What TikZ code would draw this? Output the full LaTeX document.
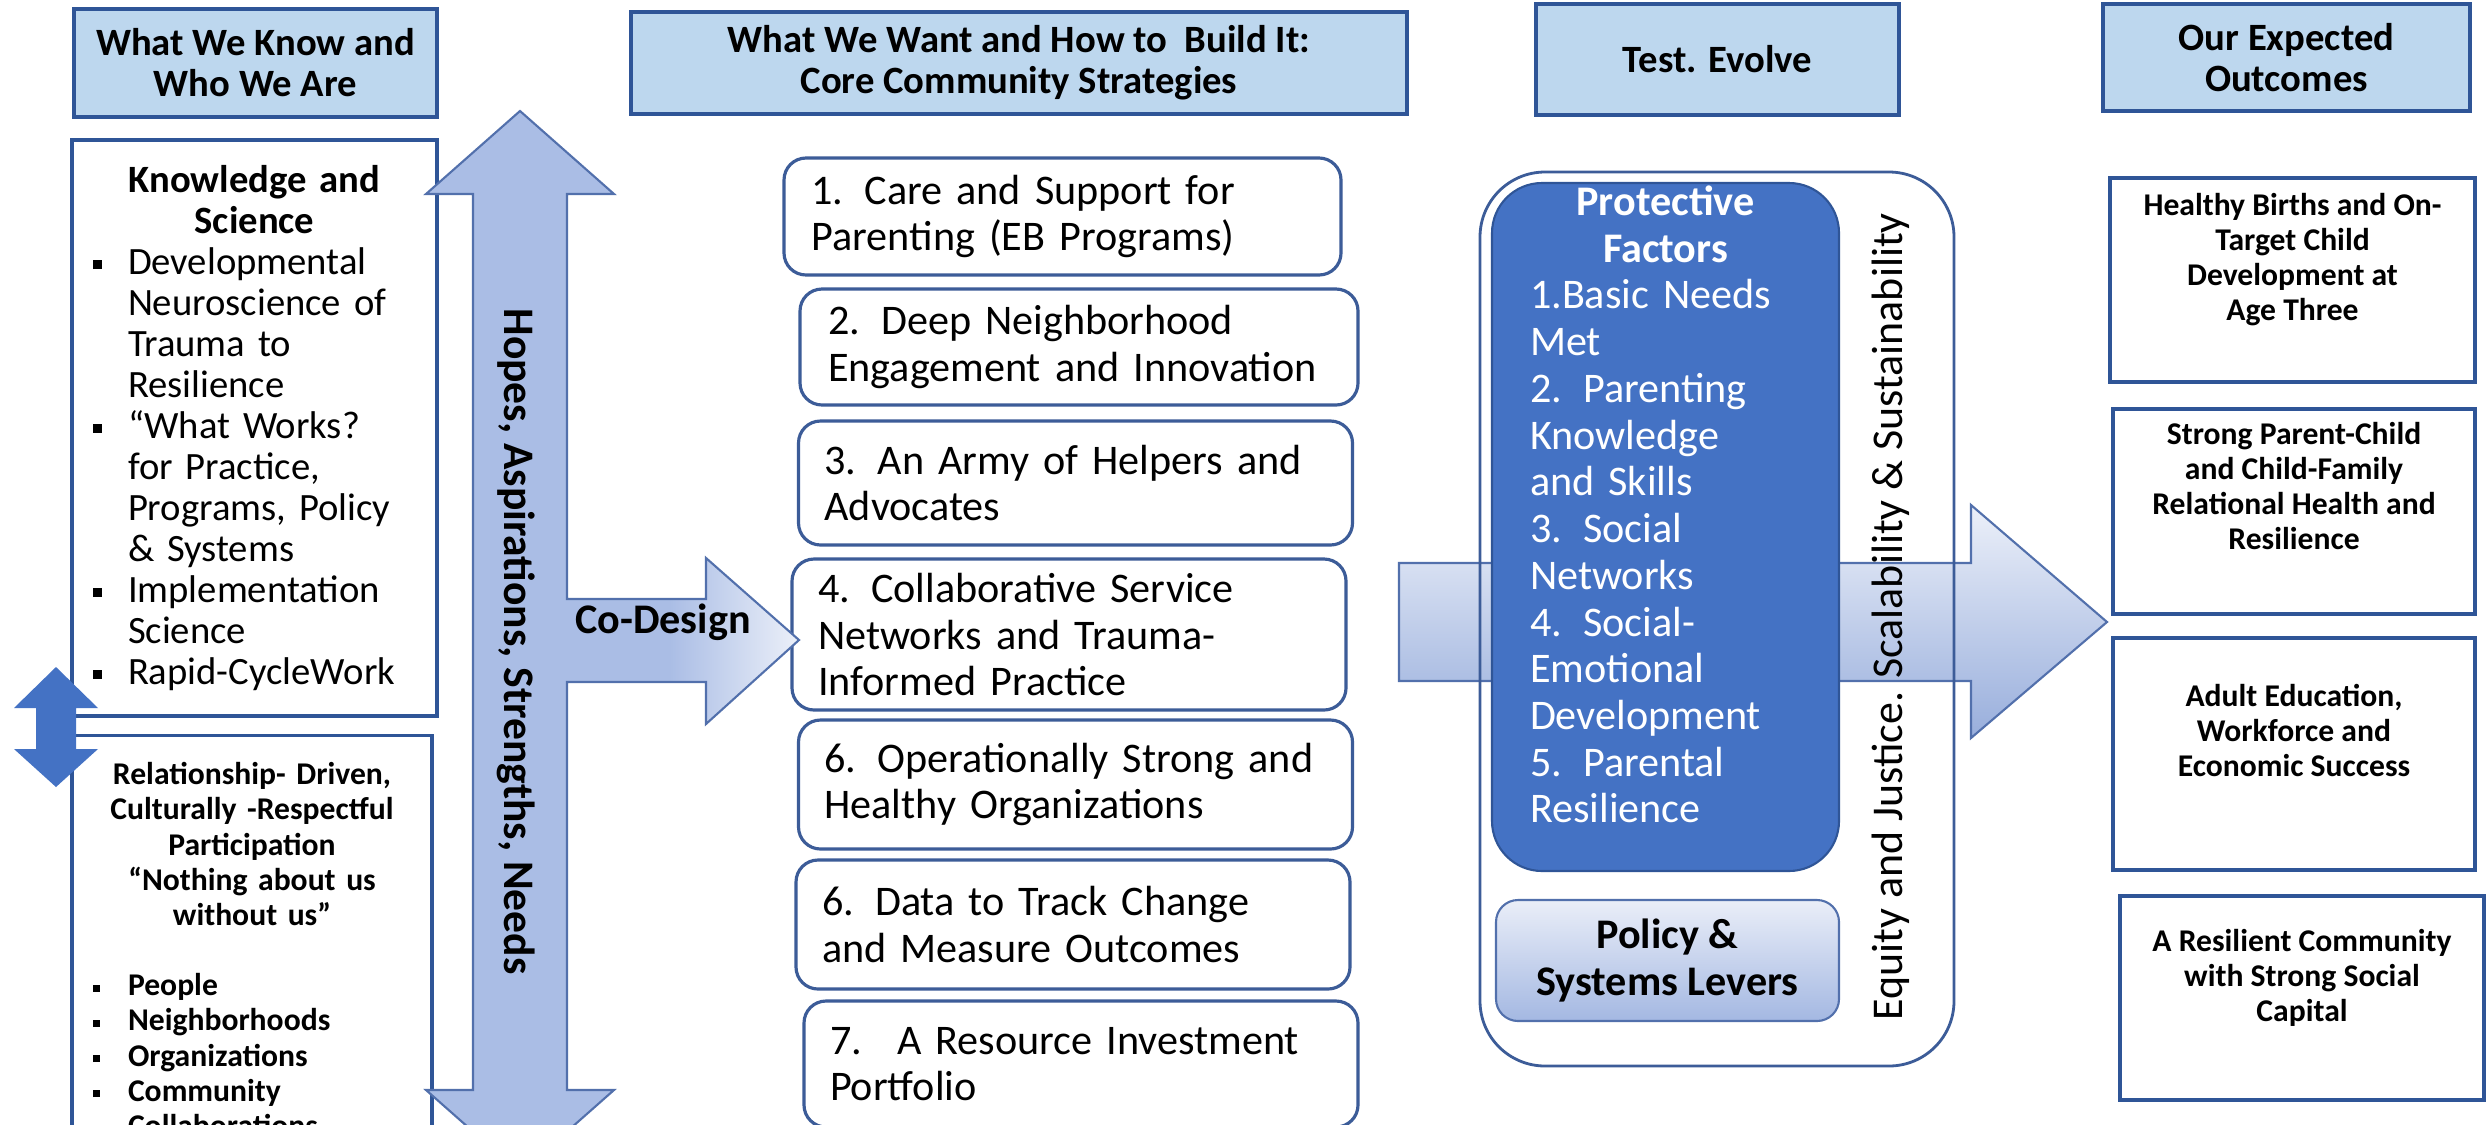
\documentclass[tikz,border=0pt]{standalone}
\usepackage{fontspec}
\setmainfont{Carlito}
\usepackage{tikz}
\usetikzlibrary{positioning}

\definecolor{headfill}{RGB}{189,215,238}
\definecolor{edgeblue}{RGB}{47,85,151}
\definecolor{boxedge}{RGB}{60,92,152}
\definecolor{arrowblue}{RGB}{170,189,229}
\definecolor{arrowedge}{RGB}{82,112,172}
\definecolor{arrowpale}{RGB}{236,240,249}
\definecolor{arrowdeep}{RGB}{152,174,220}
\definecolor{factorblue}{RGB}{68,114,196}
\definecolor{leverpale}{RGB}{234,238,248}
\definecolor{leverdark}{RGB}{164,184,226}

\pgfdeclarehorizontalshading{codesignfade}{100bp}{color(0bp)=(arrowblue); color(25bp)=(arrowblue); color(47bp)=(arrowblue); color(75bp)=(arrowpale); color(100bp)=(arrowpale)}

\newcommand{\ctrline}[1]{\makebox[\linewidth]{#1}}
\newcommand{\kbul}{\makebox[3.5mm][l]{\raisebox{0.55mm}{\rule{0.9mm}{0.9mm}}}}
\newcommand{\kind}{\hspace*{3.5mm}}
\newcommand{\rbul}{\makebox[3.5mm][l]{\raisebox{0.4mm}{\rule{0.7mm}{0.7mm}}}}
\newcommand{\hopesoutline}{(520,111) -- (614,194) -- (567,194) -- (567,599) -- (706,599) -- (706,558) -- (799,640) -- (706,724) -- (706,682) -- (567,682) -- (567,1090) -- (614,1090) -- (520,1173) -- (426,1090) -- (473,1090) -- (473,194) -- (426,194) -- cycle}

\begin{document}
\begin{tikzpicture}[x=0.1mm, y=-0.1mm,
    headbox/.style={draw=edgeblue, line width=0.9pt, fill=headfill, align=center, inner sep=0pt, font=\fontsize{11}{11.7}\selectfont\bfseries},
    listbox/.style={draw=edgeblue, line width=0.9pt, fill=white, align=left, inner xsep=2.1mm},
    stratbox/.style={draw=boxedge, line width=0.9pt, fill=white, rounded corners=2.2mm, align=left, text width=50.2mm, inner xsep=2.6mm, font=\fontsize{12}{13.3}\selectfont},
    outbox/.style={draw=edgeblue, line width=0.9pt, fill=white, inner sep=0pt},
    outtext/.style={align=center, inner sep=0pt, font=\fontsize{9}{10}\selectfont\bfseries},
    arrowline/.style={draw=arrowedge, line width=0.6pt}]
    \useasboundingbox (0,0) rectangle (2486,1124);
    \clip (0,0) rectangle (2486,1124);
    \fill [white] (0,0) rectangle (2486,1124);

    % Headers {knowhead, wanthead, testhead, outhead}
    \node [headbox, minimum width=36.3mm, minimum height=10.8mm]    (knowhead)  at (255.5,63)    {What We Know and\\Who We Are};
    \node [headbox, minimum width=77.6mm, minimum height=10.2mm]    (wanthead)  at (1019,63)     {What We Want and How to~ Build It:\\Core Community Strategies};
    \node [headbox, minimum width=36.3mm, minimum height=11.1mm]    (testhead)  at (1717.5,59.5) {Test. Evolve};
    \node [headbox, minimum width=36.7mm, minimum height=10.7mm]    (outhead)   at (2286.5,57.5) {Our Expected\\Outcomes};

    % Left column
    \node [listbox, minimum width=36.5mm, minimum height=57.6mm, text width=32.3mm, font=\fontsize{11}{11.65}\selectfont] (knowbox) at (254.5,428) {%
        \ctrline{\bfseries Knowledge and}\\
        \ctrline{\bfseries Science}\\
        \kbul Developmental\\
        \kind Neuroscience of\\
        \kind Trauma to\\
        \kind Resilience\\
        \kbul “What Works?\\
        \kind for Practice,\\
        \kind Programs, Policy\\
        \kind \& Systems\\
        \kbul Implementation\\
        \kind Science\\
        \kbul Rapid-CycleWork};
    \node [listbox, anchor=north, minimum width=36mm, text width=31.8mm, inner ysep=2.7mm, font=\fontsize{9}{10}\selectfont\bfseries] (relbox) at (252,734) {%
        \ctrline{Relationship- Driven,}\\
        \ctrline{Culturally -Respectful}\\
        \ctrline{Participation}\\
        \ctrline{“Nothing about us}\\
        \ctrline{without us”}\\[10pt]
        \rbul People\\
        \rbul Neighborhoods\\
        \rbul Organizations\\
        \rbul Community\\
        \rbul Collaborations};
    \fill [factorblue] (56,667) -- (98,708) -- (76,708) -- (76,749) -- (98,749) -- (56,787) -- (14,749) -- (36,749) -- (36,708) -- (14,708) -- cycle;

    % Strategies {care, deep, army, collab, opstrong, data, invest}
    \node [stratbox, minimum width=55.7mm, minimum height=11.7mm]   (care)      at (1062.5,216.5) {1. Care and Support for\\Parenting (EB Programs)};
    \node [stratbox, minimum width=55.8mm, minimum height=11.6mm]   (deep)      at (1079,347)     {2. Deep Neighborhood\\Engagement and Innovation};
    \node [stratbox, minimum width=55.1mm, minimum height=12.4mm]   (army)      at (1075.5,483)   {3. An Army of Helpers and\\Advocates};
    \node [stratbox, minimum width=55.4mm, minimum height=15.1mm]   (collab)    at (1069,634.5)   {4. Collaborative Service\\Networks and Trauma-\\Informed Practice};
    \node [stratbox, minimum width=55.1mm, minimum height=12.9mm]   (opstrong)  at (1075.5,784.5) {6. Operationally Strong and\\Healthy Organizations};
    \node [stratbox, minimum width=54.6mm, minimum height=12.9mm]   (data)      at (1073,924.5)   {6. Data to Track Change\\and Measure Outcomes};
    \node [stratbox, minimum width=54.8mm, minimum height=12.6mm]   (invest)    at (1081,1064)    {7.~ A Resource Investment\\Portfolio};

    % Hopes arrow with Co-Design branch
    \fill [arrowblue] \hopesoutline;
    \shade [shading=codesignfade] (567,599) -- (706,599) -- (706,558) -- (799,640) -- (706,724) -- (706,682) -- (567,682) -- cycle;
    \draw [arrowline] \hopesoutline;
    \node [rotate=-90, font=\fontsize{12.4}{13}\selectfont\bfseries] (hopes)    at (516,641.5) {Hopes, Aspirations, Strengths, Needs};
    \node [font=\fontsize{12}{13}\selectfont\bfseries]               (codesign) at (663,622)   {Co-Design};

    % Test. Evolve
    \draw [arrowline, top color=arrowpale, bottom color=arrowdeep] (1399,563) -- (1971,563) -- (1971,505) -- (2107,622) -- (1971,738) -- (1971,681) -- (1399,681) -- cycle;
    \node [draw=boxedge, line width=0.8pt, rounded corners=6.5mm, minimum width=47.4mm, minimum height=89.4mm] (testframe) at (1717,619) {};
    \node [fill=factorblue, draw=edgeblue, line width=0.6pt, rounded corners=5mm, minimum width=34.7mm, minimum height=68.8mm] (factors) at (1665.5,527) {};
    \node [below=0.3mm of factors.north, text=white, align=left, text width=27.1mm, inner sep=0pt, font=\fontsize{12}{13.3}\selectfont] (factorlist) {%
        \ctrline{\bfseries Protective}\\
        \ctrline{\bfseries Factors}\\
        1.Basic Needs\\
        Met\\
        2. Parenting\\
        Knowledge\\
        and Skills\\
        3. Social\\
        Networks\\
        4. Social-\\
        Emotional\\
        Development\\
        5. Parental\\
        Resilience};
    \node [arrowline, rounded corners=2.2mm, top color=leverpale, bottom color=leverdark, minimum width=34.3mm, minimum height=12.1mm, align=center, font=\fontsize{12}{13.3}\selectfont\bfseries] (levers) at (1667.5,960.5) {Policy \&\\Systems Levers};
    \node [rotate=90, font=\fontsize{12.5}{13}\selectfont] (equity) at (1891,616.5) {Equity and Justice. Scalability \& Sustainability};

    % Outcomes {births, bonds, success, capital}
    \node [outbox, minimum width=36.5mm, minimum height=20.4mm]     (births)    at (2292.5,280) {};
    \node [outbox, minimum width=36.2mm, minimum height=20.5mm]     (bonds)     at (2294,511.5) {};
    \node [outbox, minimum width=36.2mm, minimum height=23.2mm]     (success)   at (2294,754)   {};
    \node [outbox, minimum width=36.4mm, minimum height=20.4mm]     (capital)   at (2302,998)   {};
    \node [outtext, below=1.6mm of births.north]    (birthstext)    {Healthy Births and On-\\Target Child\\Development at\\Age Three};
    \node [outtext, below=1.4mm of bonds.north]     (bondstext)     {Strong Parent-Child\\and Child-Family\\Relational Health and\\Resilience};
    \node [outtext, below=4.7mm of success.north]   (successtext)   {Adult Education,\\Workforce and\\Economic Success};
    \node [outtext, below=3.4mm of capital.north]   (capitaltext)   {A Resilient Community\\with Strong Social\\Capital};
\end{tikzpicture}
\end{document}
